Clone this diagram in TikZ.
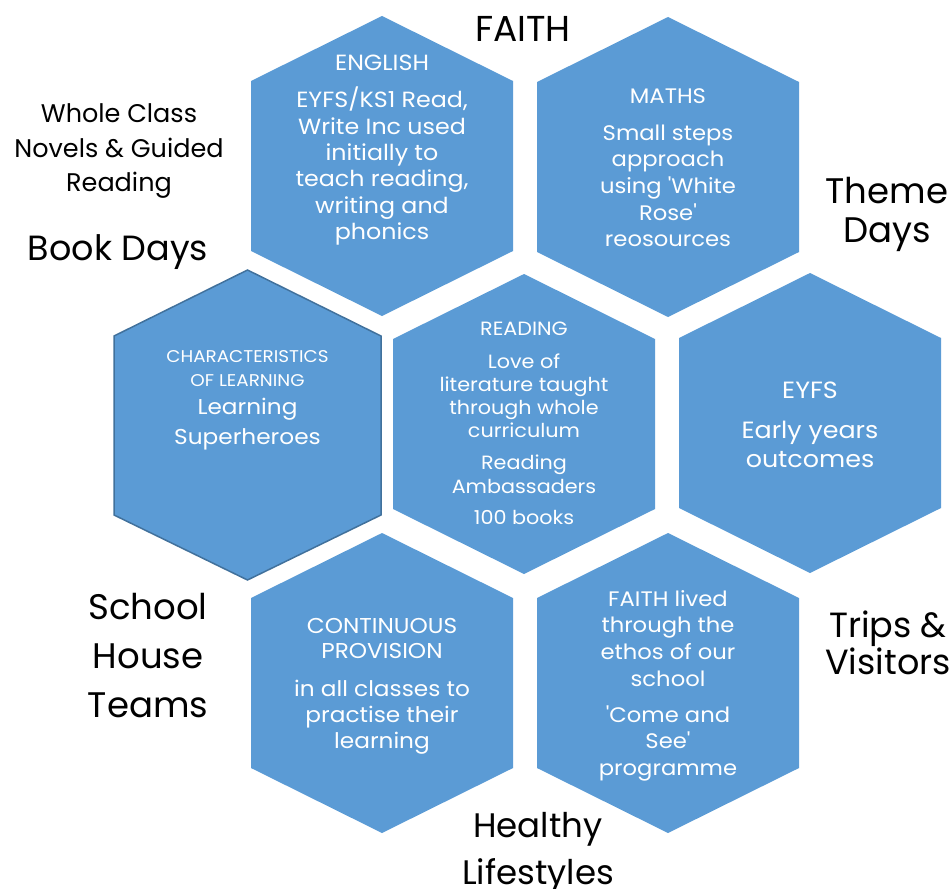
\documentclass[tikz,border=0pt]{standalone}
\usepackage{fontspec}
\setmainfont{Poppins}[Ligatures=TeXOff]
\newfontfamily\hexfont{Poppins}[Ligatures=TeXOff,FakeStretch=1.08]
\definecolor{hexblue}{HTML}{5B9BD5}
\definecolor{hexedge}{HTML}{41719C}
\newcommand\lns[3]{{\fontsize{#1}{#2}\selectfont\lineskiplimit=-\maxdimen\vtop{\halign{\hfil##\hfil\cr#3\crcr}}}}
\newcommand\hexpath[2]{(#1,#2) ++(0,-150) -- ++(131,65) -- ++(0,170) -- ++(-131,65) -- ++(-131,-65) -- ++(0,-170) -- cycle}
\tikzset{
  hexfill/.style={fill=hexblue, draw=none},
  hextext/.style={anchor=base, inner sep=0pt, text=white, font=\hexfont},
  outtext/.style={anchor=base, inner sep=0pt, text=black}
}
\begin{document}
\begin{tikzpicture}[x=1pt,y=-1pt]
\useasboundingbox (0,0) rectangle (952,888);
% hexagons
\fill[hexfill] \hexpath{382}{166};
\fill[hexfill] \hexpath{668}{167};
\fill[hexfill] \hexpath{524}{424};
\fill[hexfill] \hexpath{810}{423};
\fill[hexfill] \hexpath{382}{683};
\fill[hexfill] \hexpath{668}{683};
\filldraw[fill=hexblue, draw=hexedge, line width=1.5pt]
  (247.5,270) -- (381,336) -- (381,515) -- (247.5,580) -- (114,515) -- (114,336) -- cycle;
% hexagon texts
\node[hextext] (eng) at (382,71) {\lns{22}{26.3}{ENGLISH\cr\noalign{\vskip10.7pt}EYFS/KS1 Read,\cr Write Inc used\cr initially to\cr teach reading,\cr writing and\cr phonics\cr}};
\node[hextext] (mat) at (668,103) {\lns{21}{26.7}{MATHS\cr\noalign{\vskip10.3pt}Small steps\cr approach\cr using 'White\cr Rose'\cr reosources\cr}};
\node[hextext] (rea) at (524,335) {\lns{19.2}{23.3}{READING\cr\noalign{\vskip9.7pt}Love of\cr literature taught\cr through whole\cr curriculum\cr\noalign{\vskip8.7pt}Reading\cr Ambassaders\cr\noalign{\vskip8.4pt}100 books\cr}};
\node[hextext] (col) at (247.5,362) {\lns{17}{24}{CHARACTERISTICS\cr OF LEARNING\cr}};
\node[hextext] (colb) at (247.5,414) {\lns{21.5}{30}{Learning\cr Superheroes\cr}};
\node[hextext] (eyf) at (810,398) {\lns{23.5}{29}{EYFS\cr\noalign{\vskip11pt}Early years\cr outcomes\cr}};
\node[hextext] (con) at (382,633) {\lns{21.5}{25.7}{CONTINUOUS\cr PROVISION\cr\noalign{\vskip12.3pt}in all classes to\cr practise their\cr learning\cr}};
\node[hextext] (fai) at (668,606) {\lns{21}{26.7}{FAITH lived\cr through the\cr ethos of our\cr school\cr\noalign{\vskip9.3pt}'Come and\cr See'\cr programme\cr}};
% outer texts
\node[outtext] (faith) at (523,41.7) {\lns{36}{40}{FAITH\cr}};
\node[outtext] (whole) at (119,123) {\lns{25.5}{34.5}{Whole Class\cr Novels \& Guided\cr Reading\cr}};
\node[outtext] (book) at (118,260) {\lns{35}{38}{Book Days\cr}};
\node[outtext] (house) at (148,619) {\lns{35.5}{49}{School\cr House\cr Teams\cr}};
\node[outtext] (theme) at (887,203) {\lns{35.5}{39}{Theme\cr Days\cr}};
\node[outtext] (trips) at (888,637) {\lns{35}{37}{Trips \&\cr Visitors\cr}};
\node[outtext] (healthy) at (538,837) {\lns{34}{47}{Healthy\cr Lifestyles\cr}};
\end{tikzpicture}
\end{document}
